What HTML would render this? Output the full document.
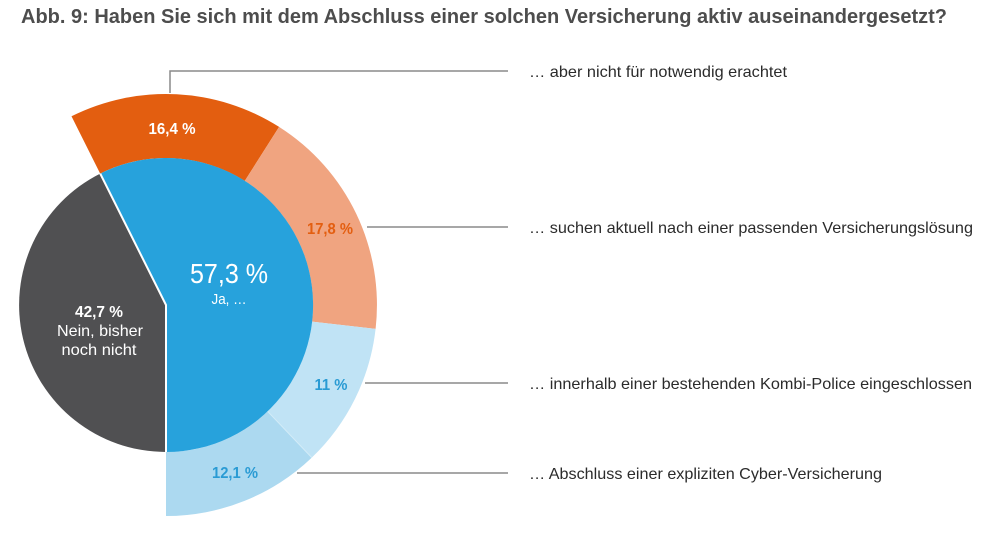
<!DOCTYPE html>
<html>
<head>
<meta charset="utf-8">
<style>
  html, body { margin:0; padding:0; background:#ffffff; }
  svg { display:block; }
  text { font-family: "Liberation Sans", "DejaVu Sans", sans-serif; }
</style>
</head>
<body>
<svg width="1000" height="552" viewBox="0 0 1000 552" xmlns="http://www.w3.org/2000/svg">
  <rect width="1000" height="552" fill="#ffffff"/>

  <!-- Title -->
  <text x="21" y="23" font-size="20" font-weight="bold" fill="#4d4d4d" textLength="926" lengthAdjust="spacingAndGlyphs">Abb. 9: Haben Sie sich mit dem Abschluss einer solchen Versicherung aktiv auseinandergesetzt?</text>

  <!-- Outer ring -->
  <path d="M71.5,116.3 A211,211 0 0 1 279.1,126.9 L244.8,180.9 A147,147 0 0 0 100.2,173.6 Z" fill="#e35e10"/>
  <path d="M279.1,126.9 A211,211 0 0 1 375.6,328.9 L312.1,321.6 A147,147 0 0 0 244.8,180.9 Z" fill="#f0a480"/>
  <path d="M375.6,328.9 A211,211 0 0 1 311.8,457.6 L267.6,411.3 A147,147 0 0 0 312.1,321.6 Z" fill="#c0e3f5"/>
  <path d="M311.8,457.6 A211,211 0 0 1 166,516 L166,452 A147,147 0 0 0 267.6,411.3 Z" fill="#acd9f0"/>
  <line x1="267.6" y1="411.3" x2="311.8" y2="457.6" stroke="#d3ecf8" stroke-width="1"/>

  <!-- Inner pie -->
  <path d="M166,305 L100.2,173.6 A147,147 0 1 1 166,452 Z" fill="#27a2dc"/>
  <path d="M166,305 L166,452 A147,147 0 0 1 100.2,173.6 Z" fill="#505052"/>
  <polyline points="100.2,173.6 166,305 166,452" fill="none" stroke="#ffffff" stroke-width="2"/>

  <!-- Leader lines -->
  <g stroke="#8a8a8a" stroke-width="1.5" fill="none">
    <polyline points="170,93 170,71 508,71"/>
    <line x1="367" y1="227" x2="508" y2="227"/>
    <line x1="365" y1="383" x2="508" y2="383"/>
    <line x1="297" y1="473" x2="508" y2="473"/>
  </g>

  <!-- Inner labels -->
  <text x="172" y="134" font-size="16" font-weight="bold" fill="#ffffff" text-anchor="middle" textLength="47" lengthAdjust="spacingAndGlyphs">16,4 %</text>
  <text x="330" y="234" font-size="16" font-weight="bold" fill="#e35e10" text-anchor="middle" textLength="46" lengthAdjust="spacingAndGlyphs">17,8 %</text>
  <text x="229" y="283" font-size="28" fill="#ffffff" text-anchor="middle" textLength="78" lengthAdjust="spacingAndGlyphs">57,3 %</text>
  <text x="229" y="304" font-size="15" fill="#ffffff" text-anchor="middle" textLength="35" lengthAdjust="spacingAndGlyphs">Ja, …</text>
  <text x="99" y="317" font-size="16" font-weight="bold" fill="#ffffff" text-anchor="middle" textLength="48" lengthAdjust="spacingAndGlyphs">42,7 %</text>
  <text x="100" y="336" font-size="16" fill="#ffffff" text-anchor="middle" textLength="86" lengthAdjust="spacingAndGlyphs">Nein, bisher</text>
  <text x="99" y="355" font-size="16" fill="#ffffff" text-anchor="middle" textLength="75" lengthAdjust="spacingAndGlyphs">noch nicht</text>
  <text x="331" y="390" font-size="16" font-weight="bold" fill="#2a9bd4" text-anchor="middle" textLength="33" lengthAdjust="spacingAndGlyphs">11 %</text>
  <text x="235" y="478" font-size="16" font-weight="bold" fill="#2a9bd4" text-anchor="middle" textLength="46" lengthAdjust="spacingAndGlyphs">12,1 %</text>

  <!-- Right labels -->
  <g font-size="16" fill="#2b2b2b">
    <text x="529" y="77" textLength="258" lengthAdjust="spacingAndGlyphs">… aber nicht für notwendig erachtet</text>
    <text x="529" y="233" textLength="444" lengthAdjust="spacingAndGlyphs">… suchen aktuell nach einer passenden Versicherungslösung</text>
    <text x="529" y="389" textLength="443" lengthAdjust="spacingAndGlyphs">… innerhalb einer bestehenden Kombi-Police eingeschlossen</text>
    <text x="529" y="479" textLength="353" lengthAdjust="spacingAndGlyphs">… Abschluss einer expliziten Cyber-Versicherung</text>
  </g>
</svg>
</body>
</html>
